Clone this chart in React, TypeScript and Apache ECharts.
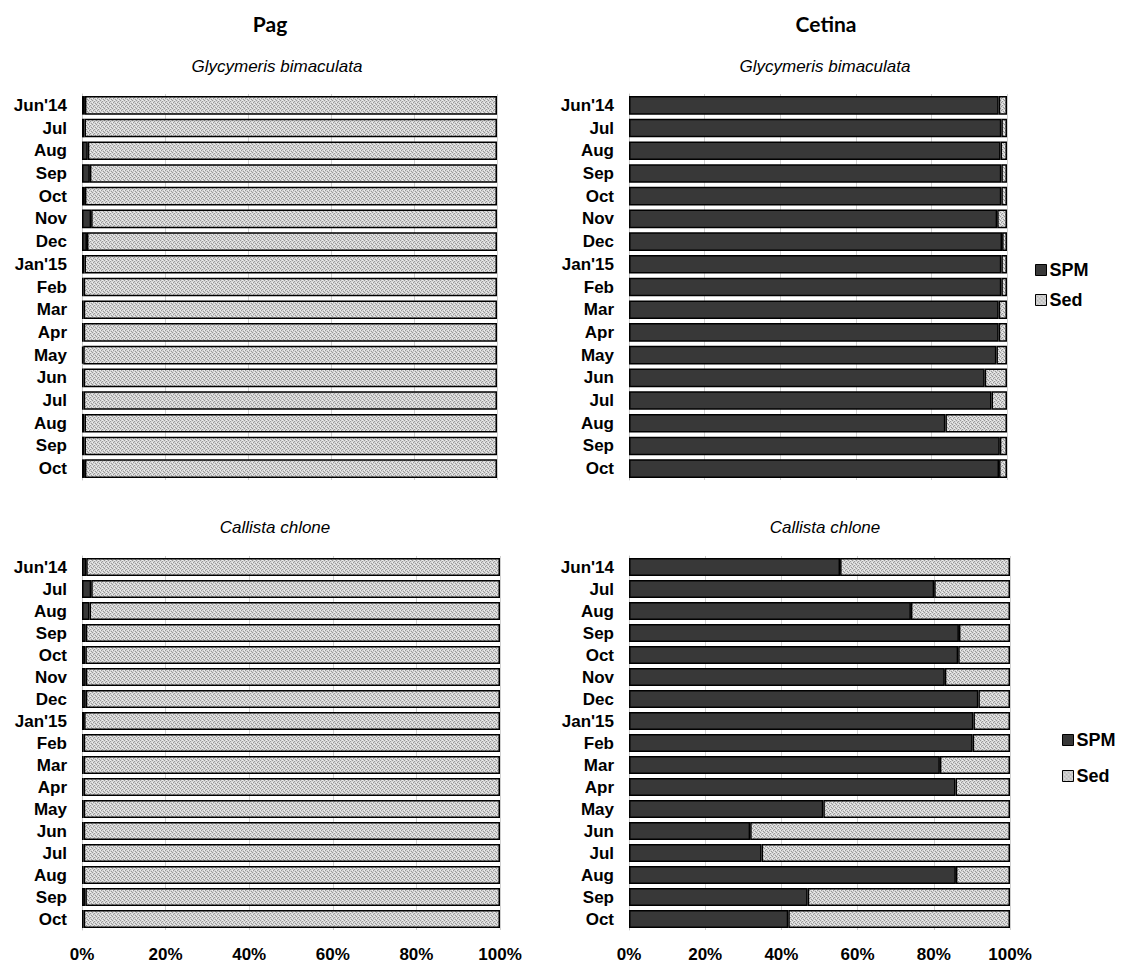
import React, { useEffect, useRef } from "react";
import * as echarts from "echarts";

const months = ["Jun'14", "Jul", "Aug", "Sep", "Oct", "Nov", "Dec", "Jan'15", "Feb", "Mar", "Apr", "May", "Jun", "Jul", "Aug", "Sep", "Oct"];
const xTicks = ["0%", "20%", "40%", "60%", "80%", "100%"];

const pagGlySPM = [0.7, 0.6, 1.4, 1.9, 0.7, 2.2, 1.2, 0.6, 0.4, 0.4, 0.4, 0.3, 0.4, 0.4, 0.6, 0.6, 0.7];
const cetGlySPM = [97.8, 98.5, 98.3, 98.5, 98.5, 97.4, 98.7, 98.5, 98.5, 97.8, 97.8, 97.2, 94.1, 95.9, 83.7, 98.1, 97.9];
const pagCalSPM = [1.0, 2.2, 1.8, 0.9, 0.8, 0.9, 0.9, 0.5, 0.4, 0.4, 0.4, 0.4, 0.4, 0.4, 0.4, 0.8, 0.4];
const cetCalSPM = [55.4, 80.1, 74.0, 86.6, 86.4, 82.9, 91.7, 90.4, 90.2, 81.6, 85.7, 51.0, 31.8, 34.8, 85.8, 46.9, 41.8];

const sed = (a: number[]) => a.map((v) => +(100 - v).toFixed(1));

function makePattern() {
  const c = document.createElement("canvas");
  c.width = 4;
  c.height = 4;
  const ctx = c.getContext("2d")!;
  ctx.fillStyle = "#d6d6d6";
  ctx.fillRect(0, 0, 4, 4);
  ctx.fillStyle = "#999999";
  ctx.fillRect(0, 0, 1, 1);
  ctx.fillRect(2, 1, 1, 1);
  ctx.fillRect(1, 2, 1, 1);
  ctx.fillRect(3, 3, 1, 1);
  ctx.fillStyle = "#f0f0f0";
  ctx.fillRect(2, 0, 1, 1);
  ctx.fillRect(0, 2, 1, 1);
  return c;
}

export default function App() {
  const ref = useRef<HTMLDivElement>(null);
  useEffect(() => {
    if (!ref.current) return;
    const chart = echarts.init(ref.current, null, { renderer: "svg" });
    const pattern = { image: makePattern(), repeat: "repeat" } as any;
    const grids = [
      { left: 82, top: 94, width: 415, height: 386 },
      { left: 629, top: 94, width: 378, height: 386 },
      { left: 82, top: 556, width: 418, height: 374 },
      { left: 629, top: 556, width: 381, height: 374 },
    ];
    const labelFont = { fontFamily: "Liberation Sans, Arial", fontWeight: "bold" as const, fontSize: 17, color: "#000" };
    const xAxes = grids.map((_, i) => ({
      type: "value",
      gridIndex: i,
      min: 0,
      max: 100,
      interval: 20,
      axisLine: { show: false },
      axisTick: { show: false },
      splitLine: { show: true, lineStyle: { color: "#d0d0d0", width: 1 } },
      axisLabel: {
        show: i >= 2,
        formatter: (v: number) => xTicks[Math.round(v / 20)],
        margin: 16,
        ...labelFont,
      },
    }));
    const yAxes = grids.map((_, i) => ({
      type: "category",
      gridIndex: i,
      data: months,
      inverse: true,
      axisLine: { show: true, lineStyle: { color: "#c8c8c8" } },
      axisTick: { show: false },
      axisLabel: { margin: 15, interval: 0, ...labelFont },
    }));
    const spmData = [pagGlySPM, cetGlySPM, pagCalSPM, cetCalSPM];
    const series: any[] = [];
    spmData.forEach((d, i) => {
      series.push({
        name: "SPM",
        type: "bar",
        stack: "s" + i,
        xAxisIndex: i,
        yAxisIndex: i,
        data: d,
        barCategoryGap: "18%",
        itemStyle: { color: "#383838", borderColor: "#000", borderWidth: 1.5 },
      });
      series.push({
        name: "Sed",
        type: "bar",
        stack: "s" + i,
        xAxisIndex: i,
        yAxisIndex: i,
        data: sed(d),
        barCategoryGap: "18%",
        itemStyle: { color: pattern, borderColor: "#000", borderWidth: 1.5 },
      });
    });
    const titleFont = { fontFamily: "Lato, Open Sans", fontWeight: "bold" as const, fontSize: 21, color: "#000" };
    const subFont = { fontFamily: "Liberation Sans, Arial", fontStyle: "italic" as const, fontWeight: "normal" as const, fontSize: 17, color: "#000" };
    const legendBase = {
      orient: "vertical",
      data: ["SPM", "Sed"],
      icon: "rect",
      itemWidth: 11,
      itemHeight: 11,
      selectedMode: false,
      textStyle: { fontFamily: "Liberation Sans, Arial", fontWeight: "bold", fontSize: 18, color: "#000", padding: [0, 0, 0, -2] },
      itemStyle: { borderColor: "#000", borderWidth: 1 },
    };
    chart.setOption({
      animation: false,
      backgroundColor: "#fff",
      title: [
        { text: "Pag", left: 265, top: 8, textAlign: "center", textStyle: titleFont },
        { text: "Cetina", left: 821, top: 8, textAlign: "center", textStyle: titleFont },
        { text: "Glycymeris bimaculata", left: 272, top: 53, textAlign: "center", textStyle: subFont },
        { text: "Glycymeris bimaculata", left: 820, top: 53, textAlign: "center", textStyle: subFont },
        { text: "Callista chlone", left: 270, top: 514, textAlign: "center", textStyle: subFont },
        { text: "Callista chlone", left: 820, top: 514, textAlign: "center", textStyle: subFont },
      ],
      legend: [
        { ...legendBase, left: 1030, top: 256, itemGap: 12 },
        { ...legendBase, left: 1057, top: 726, itemGap: 18 },
      ],
      grid: grids,
      xAxis: xAxes,
      yAxis: yAxes,
      series,
    });
    return () => chart.dispose();
  }, []);
  return <div ref={ref} style={{ position: "fixed", left: 0, top: 0, width: 1131, height: 967 }} />;
}
